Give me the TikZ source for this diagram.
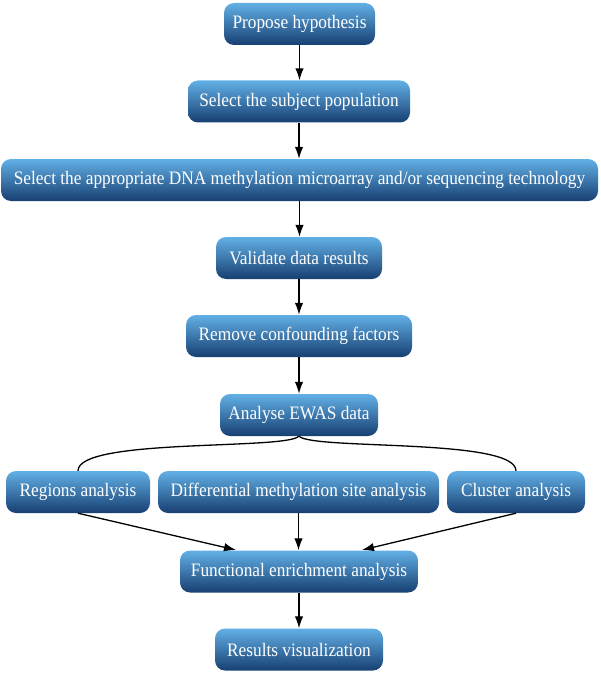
\documentclass[tikz,border=0pt]{standalone}
\usepackage{fontspec}
\setmainfont[FakeStretch=0.91]{Liberation Serif}
\usetikzlibrary{arrows.meta,calc}
\definecolor{boxtop}{HTML}{62B0E6}
\definecolor{boxmid}{HTML}{2A7CC0}
\definecolor{boxbot}{HTML}{173F72}
\begin{document}
\begin{tikzpicture}[x=1pt,y=-1pt,
  box/.style={rounded corners=10pt, minimum height=42pt, inner sep=0pt,
    top color=boxtop, middle color=boxmid, bottom color=boxbot,
    text=white, font=\fontsize{19}{22}\selectfont},
  arr/.style={line width=1.3pt, -{Latex[length=12pt,width=8.5pt]}},
  link/.style={line width=1.3pt}]
\useasboundingbox (0,0) rectangle (600,674);
\node[box, minimum width=151pt] (n1) at (299.5,24) {Propose hypothesis};
\node[box, minimum width=222pt] (n2) at (299,101.5) {Select the subject population};
\node[box, minimum width=597pt] (n3) at (299.5,180) {Select the appropriate DNA methylation microarray and/or sequencing technology};
\node[box, minimum width=166pt] (n4) at (299,258) {Validate data results};
\node[box, minimum width=226pt] (n5) at (299,336) {Remove confounding factors};
\node[box, minimum width=158pt] (n6) at (299,415) {Analyse EWAS data};
\node[box, minimum width=144pt] (n7) at (78,492) {Regions analysis};
\node[box, minimum width=281pt] (n8) at (298.5,492) {Differential methylation site analysis};
\node[box, minimum width=138pt] (n9) at (516,492) {Cluster analysis};
\node[box, minimum width=238pt] (n10) at (299,571.5) {Functional enrichment analysis};
\node[box, minimum width=168pt] (n11) at (299,649.5) {Results visualization};
\coordinate (fl) at (236,550);
\coordinate (fr) at (362,550);
\draw[arr] (n1.south) -- (n1.south |- n2.north);
\draw[arr] (n2.south) -- (n2.south |- n3.north);
\draw[arr] (n3.south) -- (n3.south |- n4.north);
\draw[arr] (n4.south) -- (n4.south |- n5.north);
\draw[arr] (n5.south) -- (n5.south |- n6.north);
\draw[link] (n6.south) .. controls +(-14,14) and +(0,-33) .. (n7.north);
\draw[link] (n6.south) .. controls +(14,14) and +(0,-33) .. (n9.north);
\draw[arr] (n7.south) -- (fl);
\draw[arr] (n8.south) -- (n8.south |- n10.north);
\draw[arr] (n9.south) -- (fr);
\draw[arr] (n10.south) -- (n10.south |- n11.north);
\end{tikzpicture}
\end{document}
